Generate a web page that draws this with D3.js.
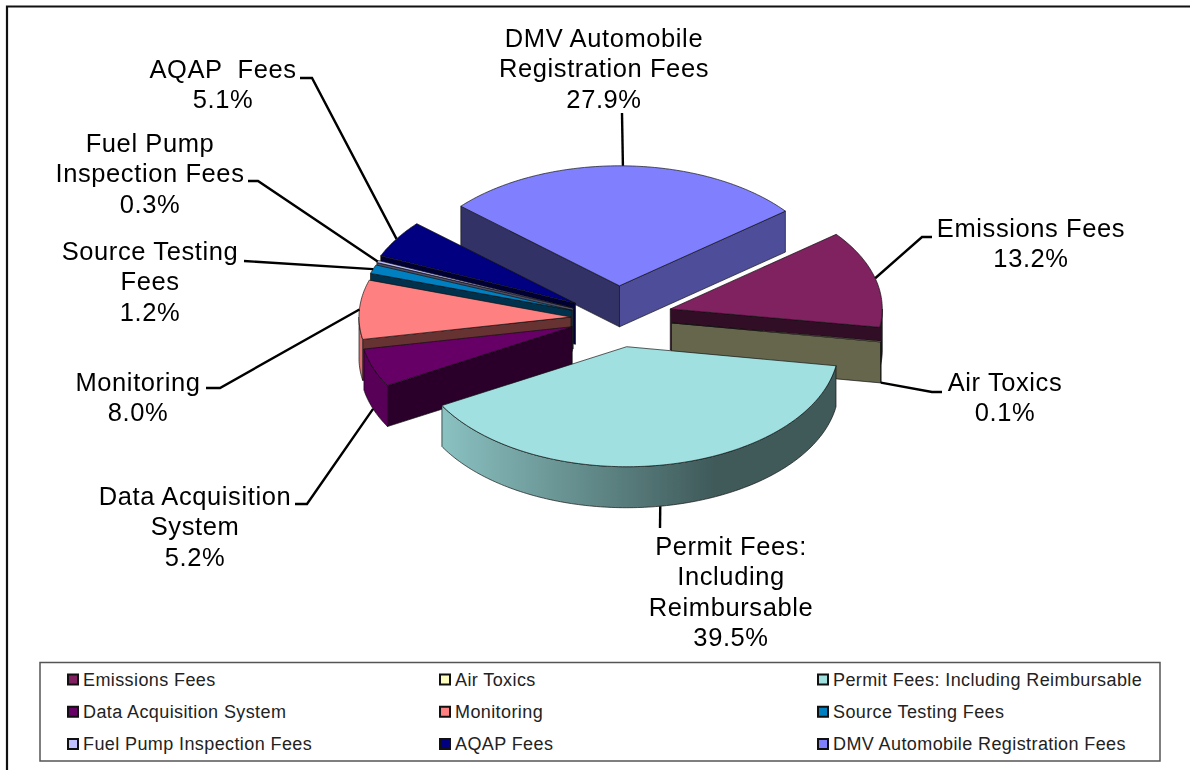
<!DOCTYPE html>
<html>
<head>
<meta charset="utf-8">
<script src="https://cdnjs.cloudflare.com/ajax/libs/d3/7.8.5/d3.min.js"></script>
<style>
  html, body { margin: 0; padding: 0; background: #fff; }
  text { font-family: "Liberation Sans", Arial, sans-serif; fill: #000; }
  .label { font-size: 25.5px; letter-spacing: 0.6px; text-anchor: middle; }
  .legend-text { font-size: 18px; letter-spacing: 0.4px; fill: #222; }
</style>
</head>
<body>
<div id="chart"></div>
<script>
var width = 1190,
    height = 770;

// values as printed on the chart (they add up to 101.0)
var categories = ["Emissions Fees", "Air Toxics", "Permit Fees: Including Reimbursable",
  "Data Acquisition System", "Monitoring", "Source Testing Fees",
  "Fuel Pump Inspection Fees", "AQAP Fees", "DMV Automobile Registration Fees"];
var percents = [13.2, 0.1, 39.5, 5.2, 8.0, 1.2, 0.3, 5.1, 27.9];
var colors = ["#802060", "#ffffc0", "#a0e0e0", "#660066", "#ff8080", "#0080c0", "#c0c0ff", "#000080", "#8080ff"];

var labelLines = [["Emissions Fees"], ["Air Toxics"], ["Permit Fees:", "Including", "Reimbursable"],
  ["Data Acquisition", "System"], ["Monitoring"], ["Source Testing", "Fees"],
  ["Fuel Pump", "Inspection Fees"], ["AQAP  Fees"], ["DMV Automobile", "Registration Fees"]];

// label placement: centre x, first baseline
var labelPos = [[1031, 237], [1005, 391], [731, 555], [195, 505], [138, 391], [150, 260], [150, 152], [223, 78], [604, 47]];
// leader: elbows after the point on the rim, and whether the rim point is on the lower edge
var leaderElbows = [[[922, 237], [932, 237]], [[932, 392], [942, 392]], [[660, 528]], [[307, 504], [295, 504]],
  [[220, 388], [206, 388]], [[244, 261]], [[258, 181], [248, 181]], [[312, 78], [300, 78]], [[622, 113]]];
var leaderLower = [0, 1, 1, 1, 0, 0, 0, 0, 0];
var leaderTweak = [0, 0, 1, 0, 0, 0, 0, 0, -0.6];

// small per-slice shift, the picture is not a true ellipse
var sliceNudge = [[-4, 0], [-4, 1], [-4, -1], [3, -1], [5, 2], [3, 4], [3, 3], [1, 3], [-3, 0]];

// back to front
var drawOrder = [8, 7, 6, 5, 4, 3, 0, 1, 2];

var cx = 621, cy = 317, rx = 212, ry = 120, depth = 41, explode = 0.26;
var rad = Math.PI / 180;

var svg = d3.select("#chart").append("svg")
    .attr("width", width)
    .attr("height", height)
    .style("display", "block");

var defs = svg.append("defs");
defs.append("filter").attr("id", "soft")
    .append("feGaussianBlur").attr("stdDeviation", 0.35);

svg.append("path")
    .attr("d", "M7,770V6.5H1190")
    .attr("fill", "none")
    .attr("stroke", "#111")
    .attr("stroke-width", 2.2);

var arcs = d3.pie().sort(null)
    .startAngle(51.5 * rad)
    .endAngle(411.5 * rad)(percents);

function shade(c, k) {
  var o = d3.rgb(c);
  return d3.rgb(o.r * k, o.g * k, o.b * k).formatHex();
}

function apex(d) {
  var m = (d.startAngle + d.endAngle) / 2;
  var n = sliceNudge[d.index];
  return [cx + explode * rx * Math.sin(m) + n[0], cy - explode * ry * Math.cos(m) + n[1]];
}

function rim(d, a, z) {
  var p = apex(d);
  return [p[0] + rx * Math.sin(a), p[1] - ry * Math.cos(a) + (z || 0)];
}

var line = d3.line();
var pie3d = svg.append("g").attr("filter", "url(#soft)");

function face(pts, fill) {
  pie3d.append("path")
      .attr("d", line(pts) + "Z")
      .attr("fill", fill)
      .attr("stroke", "#111")
      .attr("stroke-opacity", 0.85)
      .attr("stroke-width", 0.8)
      .attr("stroke-linejoin", "round");
}

function sideWall(d, a, k) {
  var p = apex(d), q = rim(d, a);
  var down = function(t) { return [t[0], t[1] + depth]; };
  face([p, q, down(q), down(p)], k);
}

drawOrder.forEach(function(i) {
  var d = arcs[i], c = colors[i];
  var a0 = d.startAngle, a1 = d.endAngle;
  var m = (a0 + a1) / 2;

  // side walls only when the top face lies above that edge
  var p = apex(d);
  [a0, a1].forEach(function(a) {
    var q = rim(d, a), t = rim(d, m);
    var cross = (q[0] - p[0]) * (t[1] - p[1]) - (q[1] - p[1]) * (t[0] - p[0]);
    var side = q[0] > p[0] ? cross < 0 : cross > 0;
    if (side) {
      var deg = (a / rad) % 360;
      sideWall(d, a, shade(c, deg < 90 ? 0.6 : 0.4));
    }
  });

  // outer curved wall, the part facing the viewer
  var from = Math.max(a0, 90 * rad), to = Math.min(a1, 270 * rad);
  if (to > from) {
    var grad = defs.append("linearGradient")
        .attr("id", "wall" + i)
        .attr("gradientUnits", "userSpaceOnUse")
        .attr("x1", 443).attr("x2", 713).attr("y1", 0).attr("y2", 0);
    grad.append("stop").attr("offset", 0).attr("stop-color", shade(c, 0.86));
    grad.append("stop").attr("offset", 1).attr("stop-color", shade(c, 0.4));
    var angles = d3.range(from, to, rad).concat([to]);
    var topEdge = angles.map(function(a) { return rim(d, a); });
    var lowEdge = angles.map(function(a) { return rim(d, a, depth); }).reverse();
    face(topEdge.concat(lowEdge), "url(#wall" + i + ")");
  }

  // top face
  var steps = d3.range(a0, a1, rad).concat([a1]);
  face([p].concat(steps.map(function(a) { return rim(d, a); })), c);
});

var leaders = svg.append("g").attr("filter", "url(#soft)");
arcs.forEach(function(d, i) {
  var a = (d.startAngle + d.endAngle) / 2 + leaderTweak[i] * rad;
  var start = rim(d, a, leaderLower[i] ? depth : 0);
  leaders.append("path")
      .attr("d", line([start].concat(leaderElbows[i])))
      .attr("fill", "none")
      .attr("stroke", "#000")
      .attr("stroke-width", 2.4);
});

var labels = svg.append("g").attr("filter", "url(#soft)");
categories.forEach(function(name, i) {
  var rows = labelLines[i].concat([percents[i].toFixed(1) + "%"]);
  var t = labels.append("text").attr("class", "label")
      .attr("transform", "translate(" + labelPos[i][0] + "," + labelPos[i][1] + ")");
  rows.forEach(function(r, j) {
    t.append("tspan").attr("x", 0).attr("y", j * 30.4).attr("xml:space", "preserve").text(r);
  });
});

// legend
var legend = svg.append("g");
legend.append("rect")
    .attr("x", 40).attr("y", 662.5)
    .attr("width", 1120).attr("height", 98.5)
    .attr("fill", "#fff")
    .attr("stroke", "#555")
    .attr("stroke-width", 1.5);

var colStep = [67, 439, 817];
var rowY = d3.scaleLinear().domain([0, 2]).range([679.5, 744]);

categories.forEach(function(name, i) {
  var col = i % 3, row = Math.floor(i / 3);
  var item = legend.append("g")
      .attr("transform", "translate(" + colStep[col] + "," + rowY(row) + ")");
  item.append("rect")
      .attr("x", 1).attr("y", -5)
      .attr("width", 10).attr("height", 10)
      .attr("fill", colors[i])
      .attr("stroke", "#111")
      .attr("stroke-width", 2);
  item.append("text")
      .attr("class", "legend-text")
      .attr("x", 16).attr("y", 6)
      .text(name);
});
</script>
</body>
</html>
